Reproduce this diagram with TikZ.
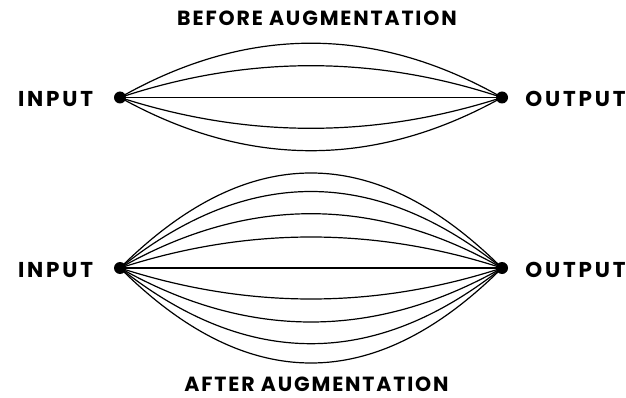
\documentclass[tikz,border=0pt]{standalone}
\usepackage{fontspec}
\setmainfont{Poppins}
\newfontfamily\labfont[LetterSpace=13]{Poppins}
\newfontfamily\ttlfont[LetterSpace=9]{Poppins}
\tikzset{
  pin/.style={circle, fill=black, inner sep=0pt, minimum size=12pt},
  lbl/.style={font=\labfont\bfseries\fontsize{21.5}{21.5}\selectfont, inner sep=0pt, anchor=center},
  ttl/.style={font=\ttlfont\bfseries\fontsize{20.5}{20.5}\selectfont, inner sep=0pt, anchor=center},
  wire/.style={line width=1.2pt}
}
\begin{document}
\begin{tikzpicture}[x=1pt, y=-1pt]
  \useasboundingbox (0,0) rectangle (626,398);

  % upper network: five paths between the two terminals
  \node[pin] (in1)  at (120,97.5) {};
  \node[pin] (out1) at (502,97.5) {};
  \node[lbl] (inl1)  at (55.5,99) {INPUT};
  \node[lbl] (outl1) at (575.5,99) {OUTPUT};
  \node[ttl] (t1) at (317,18) {BEFORE AUGMENTATION};
  \foreach \h in {-54.3,-31.8,0,30.8,53.2}
    \draw[wire] (in1.center) .. controls +(127.3,{4*\h/3}) and +(-127.3,{4*\h/3}) .. (out1.center);

  % lower network: nine paths between the two terminals
  \node[pin] (in2)  at (120,268) {};
  \node[pin] (out2) at (502,268) {};
  \node[lbl] (inl2)  at (55.5,270) {INPUT};
  \node[lbl] (outl2) at (575.5,270) {OUTPUT};
  \node[ttl] (t2) at (316.5,384.5) {AFTER AUGMENTATION};
  \foreach \h in {-95,-76.5,-54.3,-31,0,31,54,75.7,95}
    \draw[wire] (in2.center) .. controls +(127.3,{4*\h/3}) and +(-127.3,{4*\h/3}) .. (out2.center);
\end{tikzpicture}
\end{document}
